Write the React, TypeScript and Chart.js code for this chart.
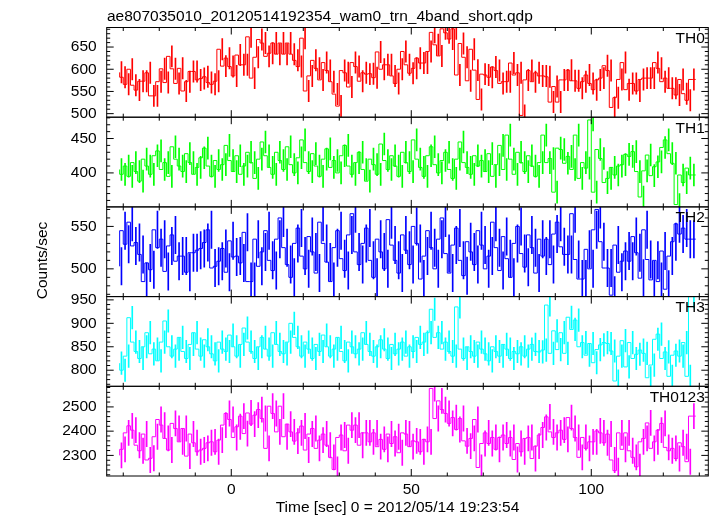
import React, { useEffect, useRef } from "react";
import { Chart, registerables } from "chart.js";

Chart.register(...registerables);

const TITLE = "ae807035010_20120514192354_wam0_trn_4band_short.qdp";
const X_TITLE = "Time [sec] 0 = 2012/05/14 19:23:54";
const Y_TITLE = "Counts/sec";

// 1-s bins, centre of first bin
const T_START = -30.5;
const T_BIN = 1;
const X_MIN = -34.6;
const X_MAX = 132.5;
const X_MAJOR = [0, 50, 100];

const TH0 = [
  593, 582, 566, 600, 564, 553, 573, 573, 592, 540, 540, 572, 601, 570, 629, 601, 568, 602, 551, 572,
  595, 595, 576, 579, 583, 570, 566, 573, 645, 607, 625, 606, 585, 632, 610, 610, 673, 580, 627, 667,
  659, 629, 636, 659, 634, 659, 634, 659, 634, 620, 606, 670, 551, 585, 620, 602, 576, 615, 597, 572,
  544, 517, 597, 592, 560, 615, 606, 573, 592, 589, 590, 581, 639, 600, 610, 610, 585, 568,
  600, 640, 610, 591, 602, 625, 614, 614, 640, 683, 655, 630, 691, 682, 668, 691, 587, 658, 627, 574,
  645, 598, 532, 589, 587, 582, 605, 597, 568, 572, 572, 614, 587, 592, 496, 576, 597, 572, 592, 585,
  585, 583, 526, 561, 526, 576, 576, 598, 574, 574, 557, 572, 587, 568, 554, 576, 580, 608, 597, 514,
  536, 577, 615, 554, 568, 568, 551, 577, 580, 580, 580, 615, 602, 572, 580, 557, 557, 542, 577, 545,
  530, 577,
];
const TH1 = [
  405, 398, 410, 395, 415, 402, 388, 420, 410, 398, 425, 432, 405, 415, 395, 438, 420, 410, 402, 428,
  415, 398, 408, 422, 436, 410, 395, 418, 405, 412, 440, 418, 402, 425, 398, 410, 430, 415, 392, 420,
  445, 425, 408, 398, 430, 418, 405, 438, 412, 400, 422, 448, 415, 402, 428, 410, 395, 420, 435, 408,
  418, 400, 425, 440, 410, 398, 415, 430, 405, 388, 420, 412, 398, 442, 418, 405, 425, 410, 395, 430,
  415, 402, 448, 420, 408, 395, 425, 438, 412, 400, 418, 430, 405, 392, 420, 445, 415, 408, 398, 425,
  410, 418, 402, 428, 395, 412, 440, 405, 455, 420, 398, 430, 415, 402, 425, 410, 395,
  415, 455, 415, 421, 372, 436, 434, 414, 424, 405, 455, 392, 415, 407, 477, 372, 434, 421, 386, 392,
  408, 397, 410, 412, 427, 424, 431, 402, 365, 403, 426, 396, 409, 416, 437, 448, 428, 414, 354, 397,
  386, 407, 397,
];
const TH2 = [
  503, 545, 529, 555, 527, 531, 517, 485, 507, 499, 546, 525, 535, 497, 527, 540, 509, 515, 515, 496,
  519, 519, 522, 524, 531, 546, 501, 503, 509, 524, 496, 533, 514, 515, 507, 543, 485, 485, 535, 503,
  520, 545, 510, 498, 535, 560, 525, 505, 490, 530, 548, 515, 500, 538, 520, 495, 555, 530, 508, 485,
  525, 545, 512, 498, 540, 565, 520, 505, 530, 548, 510, 490, 535, 520, 500, 558, 528, 510, 495, 540,
  522, 505, 550, 530, 488, 515, 545, 525, 500, 535, 560, 518, 495, 528, 548, 510, 492, 532, 520, 505,
  545, 528, 500, 515, 555, 525, 498, 538, 512, 490, 530, 550, 518, 502, 540, 525, 495, 535, 515,
  535, 505, 541, 555, 526, 517, 517, 565, 511, 488, 488, 523, 500, 546, 570, 532, 501, 501, 469, 528,
  496, 509, 521, 509, 538, 519, 489, 546, 511, 487, 510, 485, 521, 476, 515, 532, 553, 541, 548, 535,
  535,
];
const TH3 = [
  815, 800, 830, 912, 860, 840, 825, 850, 880, 835, 845, 820, 860, 905, 850, 830, 845, 870, 840, 825,
  855, 880, 845, 830, 865, 850, 835, 820, 860, 845, 840, 875, 850, 830, 855, 890, 860, 840, 825, 850,
  870, 845, 830, 880, 855, 840, 835, 860, 900, 870, 850, 830, 860, 845, 825, 855, 840, 875, 850, 830,
  845, 870, 840, 820, 860, 850, 835, 845, 880, 855, 840, 830, 850, 865, 845, 825, 855, 835, 845, 860,
  830, 850, 840, 870, 855, 860, 880, 930, 870, 880, 845, 860, 840, 830, 935, 845, 825, 850, 840, 830,
  860, 845, 835, 820, 850, 840, 830, 855, 845, 825, 840, 835, 850, 830, 845, 855, 840,
  839, 843, 939, 836, 884, 844, 880, 836, 913, 887, 907, 850, 859, 832, 857, 816, 844, 854, 859, 857,
  841, 777, 830, 863, 807, 859, 825, 834, 843, 836, 784, 811, 866, 877, 825, 839, 787, 832, 841, 830,
  859, 787, 957,
];
const TH0123 = [
  2300, 2325, 2393, 2422, 2404, 2342, 2319, 2388, 2281, 2288, 2377, 2448, 2425, 2370, 2322, 2432, 2411, 2356, 2411, 2297,
  2388, 2352, 2315, 2322, 2329, 2352, 2356, 2315, 2363, 2425, 2473, 2448, 2374, 2418, 2462, 2390, 2475, 2429, 2466, 2489,
  2452, 2329, 2503, 2473, 2397, 2503, 2377, 2429, 2397, 2359, 2393, 2421, 2322, 2388, 2411, 2329, 2363, 2388, 2342, 2292,
  2242, 2374, 2384, 2319, 2425, 2404, 2425, 2342, 2393, 2393, 2356, 2393, 2336, 2366, 2325, 2388, 2349, 2377,
  2311, 2393, 2388, 2336, 2360, 2356, 2315, 2366, 2356, 2576, 2452, 2525, 2489, 2473, 2432, 2456, 2407, 2452, 2360, 2338,
  2370, 2448, 2250, 2349, 2393, 2349, 2374, 2325, 2374, 2384, 2349, 2374, 2283, 2349, 2315, 2370, 2374, 2287, 2338, 2384,
  2415, 2459, 2397, 2374, 2393, 2404, 2366, 2456, 2411, 2374, 2292, 2374, 2329, 2356, 2356, 2401, 2393, 2352, 2388, 2281,
  2237, 2393, 2325, 2393, 2319, 2292, 2253, 2356, 2370, 2434, 2329, 2356, 2404, 2432, 2333, 2319, 2329, 2287, 2352, 2336,
  2274, 2462,
];

// 1-sigma errors (counts/sec), roughly constant per band
const TH0_ERR = 24;
const TH1_ERR = 16;
const TH2_ERR = 22;
const TH3_ERR = 24;
const TH0123_ERR = 52;

const TH0_TICKS = [500, 550, 600, 650];
const TH1_TICKS = [400, 450];
const TH2_TICKS = [500, 550];
const TH3_TICKS = [800, 850, 900, 950];
const TH0123_TICKS = [2300, 2400, 2500];

const FONT = '"Liberation Sans", Arial, Helvetica, sans-serif';
const FONT_SIZE = 15.5;

const PANELS = [
  { name: "TH0", values: TH0, err: TH0_ERR, color: "#ff0000", min: 492, max: 694, ticks: TH0_TICKS, minor: 10 },
  { name: "TH1", values: TH1, err: TH1_ERR, color: "#00ff00", min: 350.6, max: 481, ticks: TH1_TICKS, minor: 10 },
  { name: "TH2", values: TH2, err: TH2_ERR, color: "#0000ff", min: 467.3, max: 573, ticks: TH2_TICKS, minor: 10 },
  { name: "TH3", values: TH3, err: TH3_ERR, color: "#00ffff", min: 765.7, max: 957, ticks: TH3_TICKS, minor: 10 },
  { name: "TH0123", values: TH0123, err: TH0123_ERR, color: "#ff00ff", min: 2215, max: 2585, ticks: TH0123_TICKS, minor: 20 },
];

const decor = {
  id: "decor",
  afterDatasetsDraw(chart: any) {
    const ctx = chart.ctx;
    const { left, right } = chart.chartArea;
    const xs = chart.scales.x;
    ctx.save();
    ctx.strokeStyle = "#000";
    ctx.lineWidth = 1;
    const seg = (x1: number, y1: number, x2: number, y2: number) => {
      ctx.beginPath();
      ctx.moveTo(x1, y1);
      ctx.lineTo(x2, y2);
      ctx.stroke();
    };
    PANELS.forEach((p, k) => {
      const ys = chart.scales["y" + k];
      const top = ys.top;
      const bottom = ys.bottom;
      ctx.strokeRect(left, top, right - left, bottom - top);
      for (let n = Math.ceil(p.min / p.minor); n * p.minor <= p.max; n++) {
        const v = n * p.minor;
        const y = ys.getPixelForValue(v);
        const len = p.ticks.includes(v) ? 7 : 3.5;
        seg(left, y, left + len, y);
        seg(right, y, right - len, y);
      }
      for (let n = Math.ceil(X_MIN / 10); n * 10 <= X_MAX; n++) {
        const v = n * 10;
        const x = xs.getPixelForValue(v);
        const len = X_MAJOR.includes(v) ? 7 : 3.5;
        seg(x, top, x, top + len);
        seg(x, bottom, x, bottom - len);
      }
    });
    ctx.restore();
  },
  afterDraw(chart: any) {
    const ctx = chart.ctx;
    const { right } = chart.chartArea;
    ctx.save();
    ctx.fillStyle = "#000";
    ctx.font = `${FONT_SIZE}px ${FONT}`;
    ctx.textBaseline = "alphabetic";
    ctx.textAlign = "left";
    ctx.fillText(TITLE, 107, 21);
    ctx.textAlign = "center";
    ctx.fillText(X_TITLE, 397.5, 511.5);
    ctx.textAlign = "right";
    PANELS.forEach((p, k) => {
      const ys = chart.scales["y" + k];
      ctx.fillText(p.name, right - 3.5, ys.top + 15.3);
    });
    ctx.translate(46.5, 260.5);
    ctx.rotate(-Math.PI / 2);
    ctx.textAlign = "center";
    ctx.fillText(Y_TITLE, 0, 0);
    ctx.restore();
  },
};

export default function App() {
  const ref = useRef<HTMLCanvasElement | null>(null);

  useEffect(() => {
    if (!ref.current) return;
    const datasets: any[] = [];
    const tickFont = { family: FONT, size: FONT_SIZE };
    const scales: any = {
      x: {
        type: "linear",
        position: "bottom",
        min: X_MIN,
        max: X_MAX,
        offset: false,
        grid: { display: false, drawTicks: false },
        border: { display: false },
        ticks: {
          padding: 4,
          maxRotation: 0,
          autoSkip: false,
          color: "#000",
          font: tickFont,
          callback: (v: any) => String(v),
        },
        afterBuildTicks: (s: any) => {
          s.ticks = X_MAJOR.map((v) => ({ value: v }));
        },
        afterFit: (s: any) => {
          s.height = 40;
        },
      },
    };
    // left stacked boxes are placed highest index first, so add bottom panel first
    for (let k = PANELS.length - 1; k >= 0; k--) {
      const p = PANELS[k];
      scales["y" + k] = {
        type: "linear",
        position: "left",
        stack: "panels",
        stackWeight: 1,
        offset: false,
        min: p.min,
        max: p.max,
        grid: { display: false, drawTicks: false },
        border: { display: false },
        ticks: {
          padding: 10,
          autoSkip: false,
          color: "#000",
          font: tickFont,
          callback: (v: any) => String(v),
        },
        afterBuildTicks: (s: any) => {
          s.ticks = p.ticks.map((v) => ({ value: v }));
        },
        afterFit: (s: any) => {
          s.width = 106.7;
        },
      };
    }
    PANELS.forEach((p, k) => {
      const steps = p.values.map((v, i) => ({ x: T_START + i * T_BIN - T_BIN / 2, y: v }));
      steps.push({ x: T_START + (p.values.length - 1) * T_BIN + T_BIN / 2, y: p.values[p.values.length - 1] });
      datasets.push({
        type: "line",
        label: p.name,
        data: steps,
        yAxisID: "y" + k,
        xAxisID: "x",
        stepped: "after",
        borderColor: p.color,
        borderWidth: 1,
        pointRadius: 0,
        fill: false,
        clip: 0,
      });
      datasets.push({
        type: "bar",
        label: p.name + " err",
        data: p.values.map((v, i) => ({ x: T_START + i * T_BIN, y: [v - p.err, v + p.err] })),
        yAxisID: "y" + k,
        xAxisID: "x",
        backgroundColor: p.color,
        barThickness: 1,
        grouped: false,
        clip: 0,
      });
    });

    const chart = new Chart(ref.current, {
      type: "line",
      data: { datasets },
      options: {
        animation: false,
        responsive: false,
        devicePixelRatio: 1,
        layout: { padding: { left: 0, right: 8.7, top: 27.5, bottom: 0 } },
        plugins: { legend: { display: false }, tooltip: { enabled: false }, title: { display: false } },
        scales,
      },
      plugins: [decor],
    } as any);
    return () => chart.destroy();
  }, []);

  return (
    <div style={{ position: "fixed", left: 0, top: 0, width: 717, height: 516, background: "#fff" }}>
      <canvas ref={ref} width={717} height={516} style={{ display: "block", width: 717, height: 516 }} />
    </div>
  );
}
